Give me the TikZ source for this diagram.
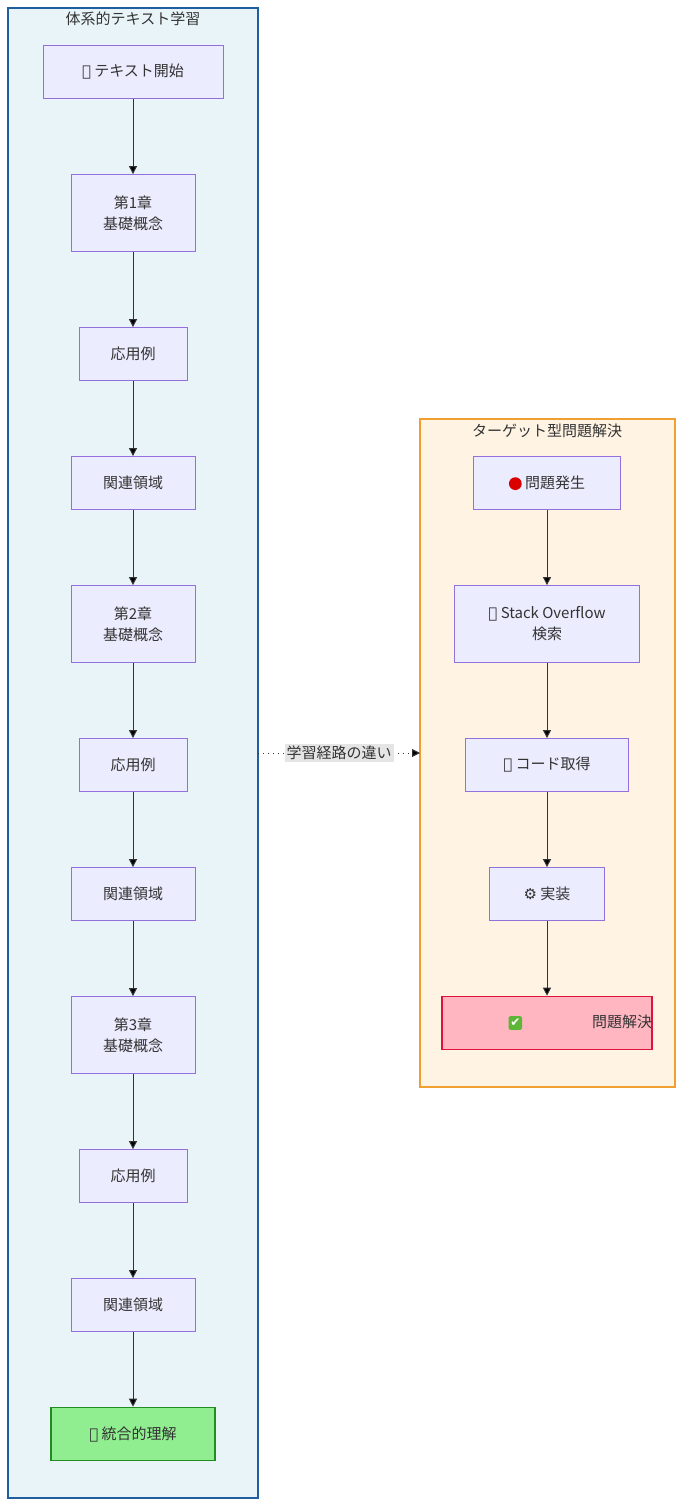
\documentclass[tikz,border=0pt]{standalone}
\usepackage{fontspec}
\setmainfont{Noto Sans CJK JP}
\newfontfamily\emo{DejaVu Sans}
\usepackage{tikz}
\usetikzlibrary{calc,arrows.meta}
\definecolor{nodefill}{HTML}{ECECFF}
\definecolor{nodeline}{HTML}{9370DB}
\definecolor{leftfill}{HTML}{E8F4F8}
\definecolor{leftline}{HTML}{1F5F9F}
\definecolor{rightfill}{HTML}{FFF3E4}
\definecolor{rightline}{HTML}{F0A030}
\definecolor{goodfill}{HTML}{90EE90}
\definecolor{goodline}{HTML}{228B22}
\definecolor{donefill}{HTML}{FFB6C1}
\definecolor{doneline}{HTML}{DC143C}
\definecolor{edge}{HTML}{333333}
\definecolor{tickgreen}{HTML}{5DB635}
\newcommand{\redDot}{\tikz[baseline=-0.6ex]\fill[red!85!black] (0,0) circle (3.2pt);}
\newcommand{\tickBox}{\tikz[baseline=-0.6ex]{\fill[tickgreen, rounded corners=1pt] (-3.4pt,-3.4pt) rectangle (3.4pt,3.4pt); \node[text=white, inner sep=0pt, font=\emo\fontsize{6}{6}\selectfont] at (0,0) {✔};}}
\tikzstyle{stage} = [rectangle, draw=nodeline, fill=nodefill, text centered, align=center, font=\fontsize{7.5}{10.5}\selectfont, text=edge, minimum height=26.5pt, inner sep=0pt]
\tikzstyle{chapter} = [stage, minimum width=62pt, minimum height=38.5pt]
\tikzstyle{cluster} = [rectangle, line width=0.8pt]
\tikzstyle{connector} = [draw=edge, line width=0.5pt, -{Triangle[length=4pt,width=4pt]}]

\begin{document}
\begin{tikzpicture}[x=0.5pt, y=-0.5pt]
        \useasboundingbox (0,0) rectangle (683,1507);
        \draw [cluster, draw=leftline, fill=leftfill] (8,8) rectangle (258,1498);
        \draw [cluster, draw=rightline, fill=rightfill] (420,419) rectangle (675,1087);
        \node (title-l) [font=\fontsize{7.5}{9}\selectfont, text=edge] at (133,19) {体系的テキスト学習};
        \node (title-r) [font=\fontsize{7.5}{9}\selectfont, text=edge] at (547,431) {ターゲット型問題解決};
        \coordinate (left-e) at (258,753);
        \coordinate (right-w) at (420,753);
        % left path
        \node (start) [stage, minimum width=90pt] at (133,72) {{\emo 📖} テキスト開始};
        \node (ch-1) [chapter] at (133,213) {第1章\\基礎概念};
        \node (app-1) [stage, minimum width=54pt] at (133,354) {応用例};
        \node (rel-1) [stage, minimum width=62pt] at (133,483) {関連領域};
        \node (ch-2) [chapter] at (133,624) {第2章\\基礎概念};
        \node (app-2) [stage, minimum width=54pt] at (133,765) {応用例};
        \node (rel-2) [stage, minimum width=62pt] at (133,894) {関連領域};
        \node (ch-3) [chapter] at (133,1035) {第3章\\基礎概念};
        \node (app-3) [stage, minimum width=54pt] at (133,1176) {応用例};
        \node (rel-3) [stage, minimum width=62pt] at (133,1305) {関連領域};
        \node (goal) [stage, minimum width=82pt, draw=goodline, fill=goodfill, line width=0.8pt] at (133,1434) {{\emo 🎓} 統合的理解};
        % right path
        \node (problem) [stage, minimum width=73.5pt] at (547,483) {\redDot\ 問題発生};
        \node (search) [stage, minimum width=92.5pt, minimum height=38.5pt] at (547,624) {{\emo 🔍} Stack Overflow\\検索};
        \node (code) [stage, minimum width=81.5pt] at (547,765) {{\emo 💾} コード取得};
        \node (impl) [stage, minimum width=57.5pt] at (547,894) {{\emo ⚙} 実装};
        \node (solved) [stage, minimum width=73.5pt, draw=doneline, fill=donefill, line width=0.8pt] at (547,1023) {\tickBox\ 問題解決};
        \draw [connector] (start) -- (ch-1);
        \draw [connector] (ch-1) -- (app-1);
        \draw [connector] (app-1) -- (rel-1);
        \draw [connector] (rel-1) -- (ch-2);
        \draw [connector] (ch-2) -- (app-2);
        \draw [connector] (app-2) -- (rel-2);
        \draw [connector] (rel-2) -- (ch-3);
        \draw [connector] (ch-3) -- (app-3);
        \draw [connector] (app-3) -- (rel-3);
        \draw [connector] (rel-3) -- (goal);
        \draw [connector] (problem) -- (search);
        \draw [connector] (search) -- (code);
        \draw [connector] (code) -- (impl);
        \draw [connector] (impl) -- (solved);
        \draw [connector, dotted] (left-e) -- node[fill=black!10, inner sep=1pt, font=\fontsize{7.5}{9}\selectfont, text=edge] {学習経路の違い} (right-w);
    \end{tikzpicture}
\end{document}
